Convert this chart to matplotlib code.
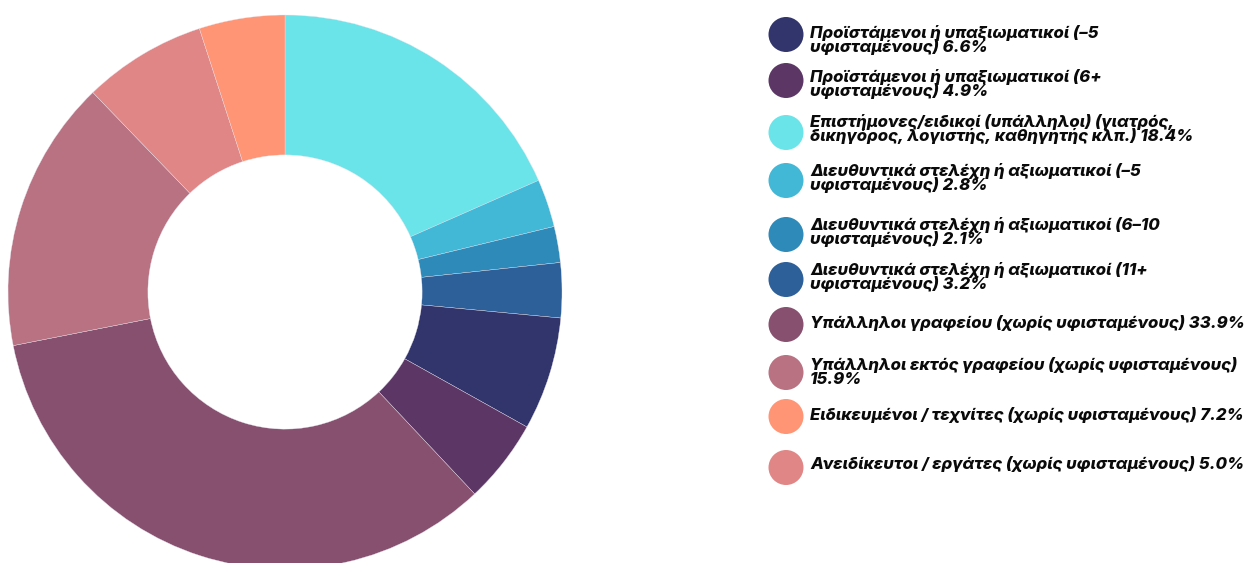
import matplotlib
matplotlib.use('Agg')
import matplotlib.pyplot as plt

# 数据
labels = [
    'Προϊστάμενοι ή υπαξιωματικοί (–5\nυφισταμένους) 6.6%',
    'Προϊστάμενοι ή υπαξιωματικοί (6+\nυφισταμένους) 4.9%',
    'Επιστήμονες/ειδικοί (υπάλληλοι) (γιατρός,\nδικηγόρος, λογιστής, καθηγητής κλπ.) 18.4%',
    'Διευθυντικά στελέχη ή αξιωματικοί (–5\nυφισταμένους) 2.8%',
    'Διευθυντικά στελέχη ή αξιωματικοί (6–10\nυφισταμένους) 2.1%',
    'Διευθυντικά στελέχη ή αξιωματικοί (11+\nυφισταμένους) 3.2%',
    'Υπάλληλοι γραφείου (χωρίς υφισταμένους) 33.9%',
    'Υπάλληλοι εκτός γραφείου (χωρίς υφισταμένους)\n15.9%',
    'Ειδικευμένοι / τεχνίτες (χωρίς υφισταμένους) 7.2%',
    'Ανειδίκευτοι / εργάτες (χωρίς υφισταμένους) 5.0%',
]
legend_colors = ['#32356b', '#5c3766', '#6ae4e8', '#42b7d6', '#2e8ab8',
                 '#2d5f98', '#87506f', '#b87282', '#ff9574', '#e08686']

# 饼图顺序（顺时针，从顶部开始）
pie_vals = [18.4, 2.8, 2.1, 3.2, 6.6, 4.9, 33.9, 15.9, 7.2, 5.0]
pie_colors = ['#6ae4e8', '#42b7d6', '#2e8ab8', '#2d5f98', '#32356b',
              '#5c3766', '#87506f', '#b87282', '#e08686', '#ff9574']

W, H = 1253, 563
fig = plt.figure(figsize=(W / 100, H / 100), dpi=100)

# 环形图
r = 277
cx, cy = 285, 292
ax = fig.add_axes([(cx - r) / W, (H - cy - r) / H, 2 * r / W, 2 * r / H])
ax.pie(pie_vals, colors=pie_colors, startangle=90, counterclock=False,
       radius=1, wedgeprops=dict(width=0.505, edgecolor='#e6e4f0', linewidth=0.25))
ax.set_xlim(-1, 1)
ax.set_ylim(-1, 1)
ax.set_aspect('equal')
ax.axis('off')

# 图例
lg = fig.add_axes([0, 0, 1, 1])
lg.set_xlim(0, W)
lg.set_ylim(H, 0)
lg.axis('off')
ys = [34.5, 80.5, 132.5, 180.5, 234.5, 279.5, 324.5, 372.5, 416.5, 467.5]
ty = [40, 84, 129, 178, 232, 277, 323, 372, 415, 464]
lg.scatter([786] * len(ys), ys, s=635, c=legend_colors, linewidths=0)
for y, t in zip(ty, labels):
    lg.text(810, y, t, ha='left', va='center', fontsize=12.0,
            fontweight='heavy', fontstyle='italic', linespacing=0.88,
            family=['Inter', 'DejaVu Sans'], color='#0a0a0a')

fig.savefig('out.png', dpi=100)
